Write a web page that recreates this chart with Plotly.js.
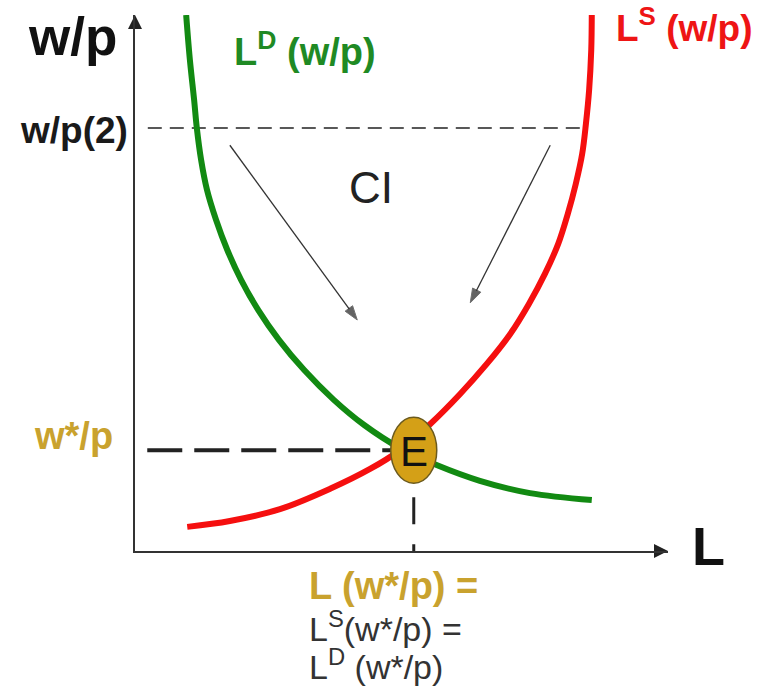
<!DOCTYPE html>
<html><head><meta charset="utf-8">
<script src="https://cdn.plot.ly/plotly-3.0.1.min.js"></script>
<style>html,body{margin:0;padding:0;background:#fff}</style>
</head><body><div id="chart" style="width:759px;height:689px"></div>
<script>
// Labour demand curve L^D(w/p): L values and real wage values
const demandL = [0.96, 1.03, 1.11, 1.16, 1.24, 1.35, 1.52, 1.73, 1.99, 2.31, 2.70, 3.17, 3.73, 4.30, 4.97, 5.67, 6.47, 7.41, 8.57];
const demandW = [10.0, 9.16, 8.41, 7.89, 7.30, 6.74, 6.18, 5.62, 5.06, 4.50, 3.94, 3.38, 2.82, 2.35, 1.92, 1.60, 1.31, 1.08, 0.95];
// Labour supply curve L^S(w/p)
const supplyL = [0.98, 1.78, 2.72, 3.66, 4.41, 4.97, 5.54, 6.10, 6.60, 7.04, 7.39, 7.69, 7.94, 8.12, 8.27, 8.39, 8.46, 8.52, 8.56, 8.57];
const supplyW = [0.45, 0.56, 0.78, 1.16, 1.53, 1.88, 2.37, 2.93, 3.49, 4.05, 4.61, 5.17, 5.73, 6.29, 6.85, 7.41, 7.97, 8.60, 9.35, 10.0];
// Equilibrium and the high real wage w/p(2)
const eqL = 5.23, eqW = 1.88;
const wp2 = 7.89;
const wp2Span = [0.24, 8.45];   // from y-axis to supply curve
const eqSpanStart = 0.23;
// Adjustment arrows: [tailL, tailW, tipL, tipW]
const arrowsData = [[1.78, 7.57, 4.17, 4.31], [7.79, 7.57, 6.29, 4.63]];
// Text labels
const yTitle = 'w/p', xTitle = 'L';
const wp2Label = 'w/p(2)', eqWLabel = 'w*/p';
const demandLabel = 'L<sup>D</sup> (w/p)', supplyLabel = 'L<sup>S</sup> (w/p)';
const ciLabel = 'CI', eqLabel = 'E';
const eqLLines = ['L (w*/p) =', 'L<sup>S</sup>(w*/p) =', 'L<sup>D</sup> (w*/p)'];

const FONT = 'Liberation Sans, Arial, sans-serif';
const GOLD = '#c9a22e', GREEN = '#128a12', RED = '#f50f0f', DARK = '#222';
const L0 = 135, R0 = 668, T0 = 15, B0 = 551;
const P = px => (px - L0) / (R0 - L0);
const Q = py => (B0 - py) / (B0 - T0);

const traces = [
  {x: wp2Span, y: [wp2, wp2], mode: 'lines', line: {color: DARK, width: 1.5, dash: '14px,8px'}, hoverinfo: 'skip'},
  {x: [eqSpanStart, eqL], y: [eqW, eqW], mode: 'lines', line: {color: DARK, width: 4, dash: '35px,12px'}, hoverinfo: 'skip'},
  {x: [eqL, eqL], y: [eqW, 0], mode: 'lines', line: {color: DARK, width: 3, dash: '27px,20px'}, hoverinfo: 'skip'},
  {x: demandL, y: demandW, mode: 'lines', line: {color: GREEN, width: 6, shape: 'spline', smoothing: 1}, hoverinfo: 'skip'},
  {x: supplyL, y: supplyW, mode: 'lines', line: {color: RED, width: 6, shape: 'spline', smoothing: 1}, hoverinfo: 'skip'}
];
// adjustment arrows
arrowsData.forEach(a => traces.push({x: [a[0], a[2]], y: [a[1], a[3]], mode: 'lines+markers',
  line: {color: '#333', width: 1.3},
  marker: {symbol: 'arrow', size: [0, 15], angleref: 'previous', color: '#222'}, hoverinfo: 'skip'}));
// axis arrowheads
traces.push({x: [0], y: [10], mode: 'markers', marker: {symbol: 'arrow-up', size: 14, color: '#222'}, cliponaxis: false, hoverinfo: 'skip'});
traces.push({x: [10], y: [0], mode: 'markers', marker: {symbol: 'arrow-right', size: 14, color: '#222'}, cliponaxis: false, hoverinfo: 'skip'});

const ann = [];
function lab(text, x, y, size, color, bold, xanchor, extra) {
  return Object.assign({text: bold ? '<b>' + text + '</b>' : text, x: x, y: y, xref: 'paper', yref: 'paper', showarrow: false,
    xanchor: xanchor, yanchor: 'middle', font: {family: FONT, size: size, color: color}}, extra || {});
}
ann.push(lab(yTitle, P(119), Q(36), 53, '#111', true, 'right'));
ann.push(lab(xTitle, P(708), Q(546), 54, '#111', true, 'center'));
ann.push(lab(wp2Label, P(130), 0, 37, '#1a1a1a', true, 'right', {yref: 'y', y: wp2, yshift: -2}));
ann.push(lab(eqWLabel, P(115), 0, 38, GOLD, true, 'right', {yref: 'y', y: eqW, yshift: 14}));
ann.push(lab(demandLabel, P(232), Q(49), 38, '#1f8a24', true, 'left'));
ann.push(lab(supplyLabel, P(614), Q(25), 37, '#ee1515', true, 'left'));
ann.push(lab(ciLabel, P(371), Q(188), 44, DARK, false, 'center'));
ann.push(lab(eqLabel, eqL, eqW, 42, '#111', false, 'center', {xref: 'x', yref: 'y', yshift: -1}));
ann.push(lab(eqLLines[0], P(307), Q(586), 38, GOLD, true, 'left'));
ann.push(lab(eqLLines[1], P(307), Q(626), 34, '#333', false, 'left'));
ann.push(lab(eqLLines[2], P(307), Q(664), 34, '#333', false, 'left'));

const layout = {
  width: 759, height: 689,
  margin: {l: L0, r: 759 - R0, t: T0, b: 689 - B0, pad: 0},
  paper_bgcolor: '#fff', plot_bgcolor: '#fff',
  showlegend: false,
  xaxis: {range: [0, 10], showgrid: false, zeroline: false, showticklabels: false, ticks: '', showline: true, linecolor: '#333', linewidth: 2, fixedrange: true},
  yaxis: {range: [0, 10], showgrid: false, zeroline: false, showticklabels: false, ticks: '', showline: true, linecolor: '#333', linewidth: 2, fixedrange: true},
  shapes: [{type: 'circle', xref: 'x', yref: 'y', xsizemode: 'pixel', ysizemode: 'pixel', xanchor: eqL, yanchor: eqW,
    x0: -23, x1: 23, y0: -33, y1: 33, fillcolor: '#d4a017', line: {color: '#6b5a1e', width: 1.5}, layer: 'above'}],
  annotations: ann
};
Plotly.newPlot('chart', traces, layout, {displayModeBar: false, staticPlot: true});
</script></body></html>
